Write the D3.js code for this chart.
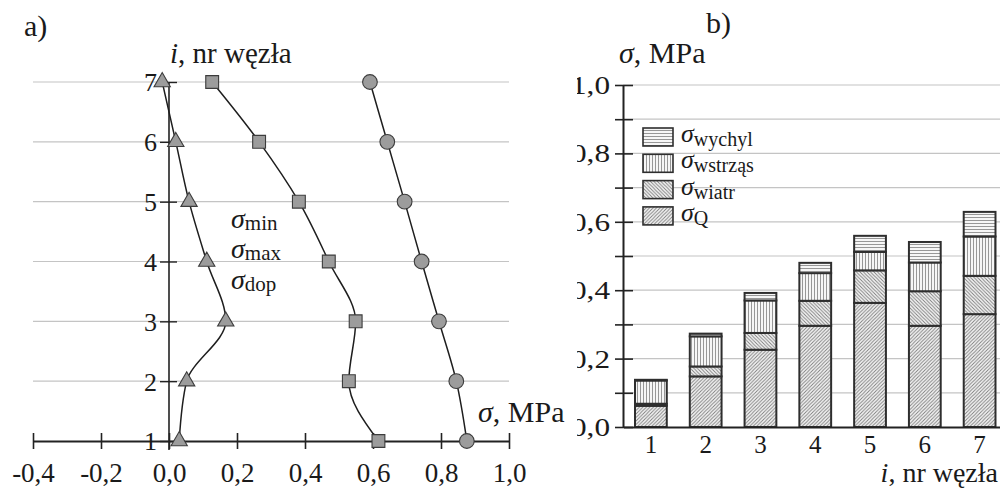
<!DOCTYPE html>
<html>
<head>
<meta charset="utf-8">
<script src="https://cdn.jsdelivr.net/npm/d3@7"></script>
<style>
  body { margin: 0; background: #fff; }
  svg { display: block; font-family: "Liberation Serif", "Times New Roman", serif; }
</style>
</head>
<body>
<svg id="chart" width="1000" height="490"></svg>
<script>
// Node numbers along the column
const nodes = [1, 2, 3, 4, 5, 6, 7];

// Panel a): stress envelopes at each node, MPa
const sigmaMin = [0.030, 0.052, 0.167, 0.111, 0.059, 0.020, -0.020];
const sigmaMax = [0.616, 0.529, 0.549, 0.470, 0.382, 0.265, 0.127];
const sigmaDop = [0.876, 0.845, 0.794, 0.743, 0.693, 0.642, 0.591];
const stressTicksA = [-0.4, -0.2, 0.0, 0.2, 0.4, 0.6, 0.8, 1.0];

// Panel b): stacked stress components at each node, MPa
const sigmaQ       = [0.062, 0.148, 0.226, 0.296, 0.363, 0.296, 0.330];
const sigmaWiatr   = [0.006, 0.029, 0.049, 0.073, 0.095, 0.101, 0.112];
const sigmaWstrzas = [0.068, 0.088, 0.095, 0.081, 0.054, 0.084, 0.115];
const sigmaWychyl  = [0.002, 0.008, 0.022, 0.030, 0.047, 0.060, 0.072];
const stressTicksB  = [0.0, 0.1, 0.2, 0.3, 0.4, 0.5, 0.6, 0.7, 0.8, 0.9, 1.0];
const stressLabelsB = [0.0, 0.2, 0.4, 0.6, 0.8, 1.0];

const fmt = v => v.toFixed(1).replace(".", ",");
const svg = d3.select("#chart");
const defs = svg.append("defs");
const FONT = "Liberation Serif";

// ---------- hatch patterns ----------
function hatch(id, size, color, draw) {
  const p = defs.append("pattern")
    .attr("id", id).attr("patternUnits", "userSpaceOnUse")
    .attr("width", size).attr("height", size);
  p.append("rect").attr("width", size).attr("height", size).attr("fill", "#f6f6f6");
  p.append("path").attr("d", draw(size)).attr("stroke", color)
    .attr("stroke-width", 0.9).attr("fill", "none");
}
hatch("pat-Q", 3.5, "#7a7a7a", s => `M-1,1 L1,-1 M0,${s} L${s},0 M${s - 1},${s + 1} L${s + 1},${s - 1}`);
hatch("pat-wiatr", 3.5, "#7a7a7a", s => `M-1,${s - 1} L1,${s + 1} M0,0 L${s},${s} M${s - 1},-1 L${s + 1},1`);
hatch("pat-wstrzas", 3, "#8c8c8c", s => `M${s / 2},0 L${s / 2},${s}`);
hatch("pat-wychyl", 3, "#8c8c8c", s => `M0,${s / 2} L${s},${s / 2}`);

// sigma with a subscript
function sigmaText(g, x, y, sub, size, subSize, shift) {
  const t = g.append("text").attr("x", x).attr("y", y).attr("fill", "#1a1a1a");
  t.append("tspan").attr("font-style", "italic").attr("font-size", size).text("σ");
  if (sub) t.append("tspan").attr("font-size", subSize).attr("dy", shift).text(sub);
  return t;
}

// ======================= panel a) =======================
const gA = svg.append("g");
const xA = d3.scaleLinear().domain([-0.4, 1.0]).range([33, 509]);
const yA = d3.scaleLinear().domain([1, 7]).range([441, 82]);

// horizontal gridlines at nodes 2..7
gA.append("g").selectAll("line").data(nodes.filter(n => n > 1)).join("line")
  .attr("x1", xA(-0.4)).attr("x2", xA(1.0))
  .attr("y1", d => yA(d)).attr("y2", d => yA(d))
  .attr("stroke", "#c4c4c4").attr("stroke-width", 1.2);

// horizontal stress axis along node 1
const axA = gA.append("g").attr("transform", `translate(0,${yA(1)})`)
  .call(d3.axisBottom(xA).tickValues(stressTicksA).tickFormat(fmt).tickSizeOuter(0));
axA.attr("font-family", FONT);
axA.select(".domain").attr("stroke", "#222").attr("stroke-width", 2);
axA.selectAll(".tick line").attr("y1", -8).attr("y2", 8).attr("stroke", "#222").attr("stroke-width", 1.6);
axA.selectAll(".tick text").attr("y", 41).attr("dy", null)
  .attr("font-size", 27).attr("fill", "#1a1a1a");

// vertical node axis at sigma = 0
const ayA = gA.append("g").attr("transform", `translate(${xA(0)},0)`)
  .call(d3.axisLeft(yA).tickValues(nodes).tickFormat(d3.format("d")).tickSizeOuter(0));
ayA.attr("font-family", FONT);
ayA.select(".domain").remove();
ayA.append("line").attr("y1", yA(7)).attr("y2", yA(1) + 9)
  .attr("stroke", "#222").attr("stroke-width", 1.6);
ayA.selectAll(".tick line").attr("x1", -9).attr("x2", 8).attr("stroke", "#222").attr("stroke-width", 1.4);
ayA.selectAll(".tick text").attr("x", -12).attr("dy", "0.34em")
  .attr("font-size", 26).attr("fill", "#1a1a1a");

// curves with markers
const seriesA = [
  { values: sigmaMin, symbol: d3.symbolTriangle, size: 115 },
  { values: sigmaMax, symbol: d3.symbolSquare, size: 165 },
  { values: sigmaDop, symbol: d3.symbolCircle, size: 170 }
];
const lineA = d3.line().x(d => xA(d[1])).y(d => yA(d[0])).curve(d3.curveMonotoneY);
seriesA.forEach(s => {
  const pts = nodes.map((n, i) => [n, s.values[i]]);
  gA.append("path").attr("d", lineA(pts)).attr("fill", "none")
    .attr("stroke", "#1e1e1e").attr("stroke-width", 1.5);
  gA.append("g").selectAll("path").data(pts).join("path")
    .attr("transform", d => `translate(${xA(d[1])},${yA(d[0])})`)
    .attr("d", d3.symbol(s.symbol, s.size))
    .attr("fill", "#9c9c9c").attr("stroke", "#3c3c3c").attr("stroke-width", 1.1);
});

// labels of panel a)
gA.append("text").attr("x", 24).attr("y", 36).attr("font-size", 30).attr("fill", "#1a1a1a").text("a)");
const nodeTitleA = gA.append("text").attr("x", 170).attr("y", 63).attr("font-size", 29).attr("fill", "#1a1a1a");
nodeTitleA.append("tspan").attr("font-style", "italic").text("i");
nodeTitleA.append("tspan").text(", nr węzła");
const stressTitleA = sigmaText(gA, 478, 422, null, 30);
stressTitleA.append("tspan").attr("font-size", 30).text(", MPa");

sigmaText(gA, 231, 228, "min", 28, 21, 2);
sigmaText(gA, 231, 258, "max", 28, 21, 2);
sigmaText(gA, 231, 289, "dop", 28, 21, 2);

// ======================= panel b) =======================
defs.append("clipPath").attr("id", "clipB")
  .append("rect").attr("x", 577).attr("y", 0).attr("width", 423).attr("height", 490);
const gB = svg.append("g").attr("clip-path", "url(#clipB)");

const xB = d3.scaleBand().domain(nodes).range([623.5, 1007]).paddingInner(0.42).paddingOuter(0.21);
const yB = d3.scaleLinear().domain([0, 1]).range([427, 85]);

// horizontal gridlines
gB.append("g").selectAll("line").data(stressTicksB.filter(v => v > 0)).join("line")
  .attr("x1", 623).attr("x2", 1000)
  .attr("y1", d => yB(d)).attr("y2", d => yB(d))
  .attr("stroke", "#c4c4c4").attr("stroke-width", 1.2);

// stacked bars
const keys = ["Q", "wiatr", "wstrzas", "wychyl"];
const table = nodes.map((n, i) => ({
  node: n, Q: sigmaQ[i], wiatr: sigmaWiatr[i], wstrzas: sigmaWstrzas[i], wychyl: sigmaWychyl[i]
}));
const stacked = d3.stack().keys(keys)(table);
gB.append("g").selectAll("g").data(stacked).join("g")
  .attr("fill", d => `url(#pat-${d.key})`)
  .selectAll("rect").data(d => d).join("rect")
  .attr("x", d => xB(d.data.node)).attr("width", xB.bandwidth())
  .attr("y", d => yB(d[1])).attr("height", d => yB(d[0]) - yB(d[1]))
  .attr("stroke", "#2e2e2e").attr("stroke-width", 2);

// axes of panel b)
const labelStretch = 1.25;
const ayB = gB.append("g").attr("transform", `translate(623,0)`)
  .call(d3.axisLeft(yB).tickValues(stressTicksB).tickSizeOuter(0)
    .tickFormat(v => stressLabelsB.some(l => Math.abs(l - v) < 1e-9) ? fmt(v) : ""));
ayB.attr("font-family", FONT);
ayB.select(".domain").attr("stroke", "#222").attr("stroke-width", 2);
ayB.selectAll(".tick line").attr("x1", -8).attr("x2", 10).attr("stroke", "#222").attr("stroke-width", 1.6);
ayB.selectAll(".tick text").attr("x", -13 / labelStretch).attr("dy", "0.34em")
  .attr("transform", `scale(${labelStretch},1)`)
  .attr("font-size", 25).attr("fill", "#1a1a1a");

const axB = gB.append("g").attr("transform", `translate(0,${yB(0)})`)
  .call(d3.axisBottom(xB).tickSize(0).tickSizeOuter(0));
axB.attr("font-family", FONT);
axB.select(".domain").attr("stroke", "#222").attr("stroke-width", 2);
axB.selectAll(".tick text").attr("y", 26).attr("dy", null)
  .attr("font-size", 25).attr("fill", "#1a1a1a");

// legend
const legendKeys = ["wychyl", "wstrzas", "wiatr", "Q"];
const legendText = { wychyl: "wychyl", wstrzas: "wstrząs", wiatr: "wiatr", Q: "Q" };
legendKeys.forEach((k, i) => {
  const y0 = 128 + i * 26.3;
  gB.append("rect").attr("x", 643).attr("y", y0).attr("width", 30).attr("height", 18)
    .attr("fill", `url(#pat-${k})`).attr("stroke", "#2e2e2e").attr("stroke-width", 1.6);
  sigmaText(gB, 681, y0 + 14, legendText[k], 26, 20, 4);
});

// titles of panel b)
gB.append("text").attr("x", 706).attr("y", 33).attr("font-size", 30).attr("fill", "#1a1a1a").text("b)");
const stressTitleB = sigmaText(gB, 619, 63, null, 30);
stressTitleB.append("tspan").attr("font-size", 30).text(", MPa");
const nodeTitleB = gB.append("text").attr("x", 998).attr("y", 482).attr("text-anchor", "end")
  .attr("font-size", 28).attr("fill", "#1a1a1a");
nodeTitleB.append("tspan").attr("font-style", "italic").text("i");
nodeTitleB.append("tspan").text(", nr węzła");
</script>
</body>
</html>
